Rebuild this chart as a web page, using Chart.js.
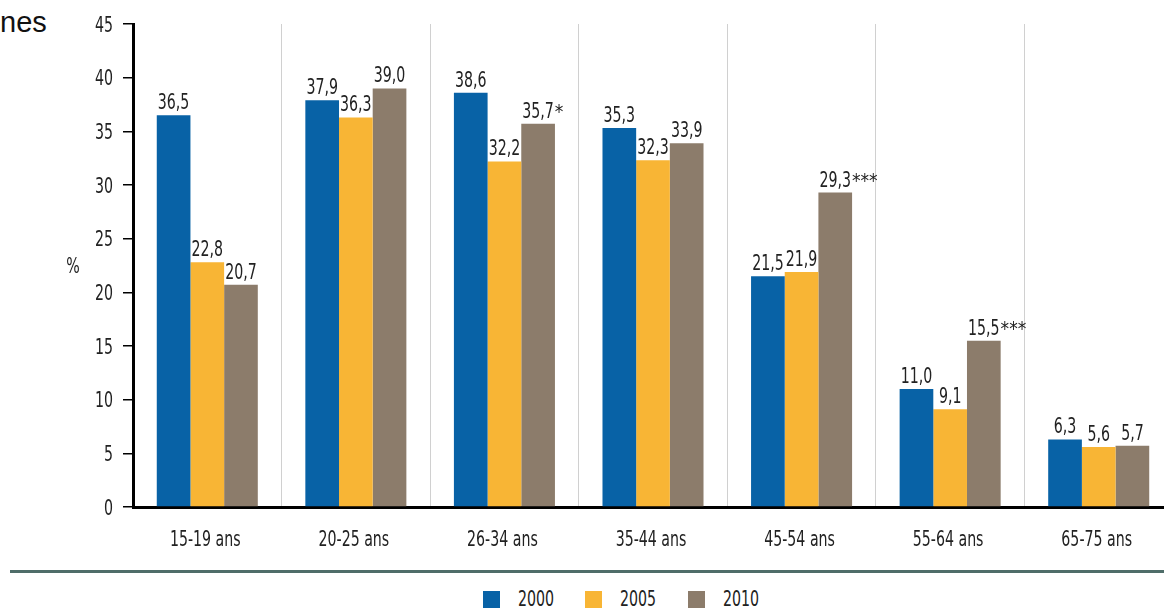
<!DOCTYPE html>
<html><head><meta charset="utf-8">
<script src="https://cdn.jsdelivr.net/npm/chart.js@4.4.1/dist/chart.umd.min.js"></script>
<style>
html,body{margin:0;padding:0;background:#fff;overflow:hidden;width:1164px;height:608px;}
#wrap{position:absolute;left:0;top:0;width:1180px;height:560px;}
#title{position:absolute;left:0;top:6px;font-family:"Liberation Sans",Arial,sans-serif;font-size:29px;color:#111;}
#sep{position:absolute;left:10px;top:570px;width:1160px;height:3px;background:#4f6d69;}
#legend{position:absolute;top:587px;left:0;width:1164px;height:24px;font-family:"DejaVu Sans Condensed","DejaVu Sans",sans-serif;font-size:21px;color:#222;}
.li{position:absolute;top:0;height:24px;}
.sw{position:absolute;left:0;top:4px;width:17px;height:17px;}
.tx{position:absolute;left:35px;top:0;transform:scaleX(0.75);transform-origin:left top;white-space:nowrap;}
</style></head>
<body>
<div id="title">nes</div>
<div id="wrap"><canvas id="c"></canvas></div>
<div id="sep"></div>
<div id="legend"></div>
<script>
const categories = ["15-19 ans","20-25 ans","26-34 ans","35-44 ans","45-54 ans","55-64 ans","65-75 ans"];
const years = ["2000","2005","2010"];
const v2000 = [36.5,37.9,38.6,35.3,21.5,11.0,6.3];
const v2005 = [22.8,36.3,32.2,32.3,21.9,9.1,5.6];
const v2010 = [20.7,39.0,35.7,33.9,29.3,15.5,5.7];
const marks2010 = ["","","*","","***","***",""];
const colors = ["#0862a6","#f8b535","#8c7c6b"];
const yTicks = [0,5,10,15,20,25,30,35,40,45];

const fontFam = '"DejaVu Sans Condensed","DejaVu Sans",sans-serif';
const SX = 0.75;

const fmt = v => v.toFixed(1).replace('.', ',');

function sText(ctx, txt, x, y, align, size, sx){
  sx = sx || SX;
  ctx.save();
  ctx.font = size + 'px ' + fontFam;
  ctx.translate(x, y);
  ctx.scale(sx, 1);
  ctx.textAlign = align;
  ctx.fillText(txt, 0, 0);
  ctx.restore();
}
function sWidth(ctx, txt, size){
  ctx.save(); ctx.font = size + 'px ' + fontFam;
  const w = ctx.measureText(txt).width * SX; ctx.restore(); return w;
}

const textPlugin = {
  id:'texts',
  afterDraw(chart){
    const ctx = chart.ctx;
    ctx.save();
    ctx.fillStyle = '#222';
    ctx.textBaseline = 'alphabetic';
    chart.data.datasets.forEach((ds, di) => {
      const meta = chart.getDatasetMeta(di);
      meta.data.forEach((bar, i) => {
        const t = fmt(ds.data[i]);
        const m = (ds.marks || [])[i] || '';
        const w = sWidth(ctx, t, 21);
        const x0 = bar.x - w/2;
        sText(ctx, t, x0, bar.y - 6, 'left', 21);
        if (m) sText(ctx, m, x0 + w + 1, bar.y - 6, 'left', 20, 0.95);
      });
    });
    const ys = chart.scales.y;
    yTicks.forEach(v => sText(ctx, String(v), 113, ys.getPixelForValue(v) + 7.5, 'right', 21));
    const xs = chart.scales.x;
    categories.forEach((c, i) => sText(ctx, c, xs.getPixelForValue(i) - 2, 546, 'center', 21));
    sText(ctx, '%', 73, ys.getPixelForValue(22.5) + 7, 'center', 21);
    ctx.restore();
  }
};

new Chart(document.getElementById('c'), {
  type:'bar',
  data:{
    labels:categories,
    datasets:[
      {label:years[0], data:v2000, backgroundColor:colors[0]},
      {label:years[1], data:v2005, backgroundColor:colors[1]},
      {label:years[2], data:v2010, backgroundColor:colors[2], marks:marks2010}
    ]
  },
  options:{
    responsive:true, maintainAspectRatio:false, animation:false,
    layout:{padding:{left:0,right:7,top:24,bottom:0}},
    plugins:{legend:{display:false}, tooltip:{enabled:false}},
    datasets:{bar:{categoryPercentage:0.68, barPercentage:1.0, borderWidth:0}},
    scales:{
      x:{
        grid:{offset:true, color:'#d0d0d0', lineWidth:1, drawTicks:false},
        border:{display:true, color:'#000', width:3},
        ticks:{display:false},
        afterFit(s){ s.height = 53; }
      },
      y:{
        min:0, max:45,
        afterBuildTicks(s){ s.ticks = yTicks.map(v=>({value:v})); },
        grid:{drawOnChartArea:false, drawTicks:true, tickLength:10, color:'#000', lineWidth:1.5},
        border:{display:true, color:'#000', width:3},
        ticks:{display:false},
        afterFit(s){ s.width = 133; }
      }
    }
  },
  plugins:[textPlugin]
});

const leg = document.getElementById('legend');
const lx = [483, 585, 688];
years.forEach((y,i)=>{
  const d = document.createElement('div');
  d.className='li'; d.style.left = lx[i]+'px';
  d.innerHTML = '<span class="sw" style="background:'+colors[i]+'"></span><span class="tx">'+y+'</span>';
  leg.appendChild(d);
});
</script>
</body></html>
